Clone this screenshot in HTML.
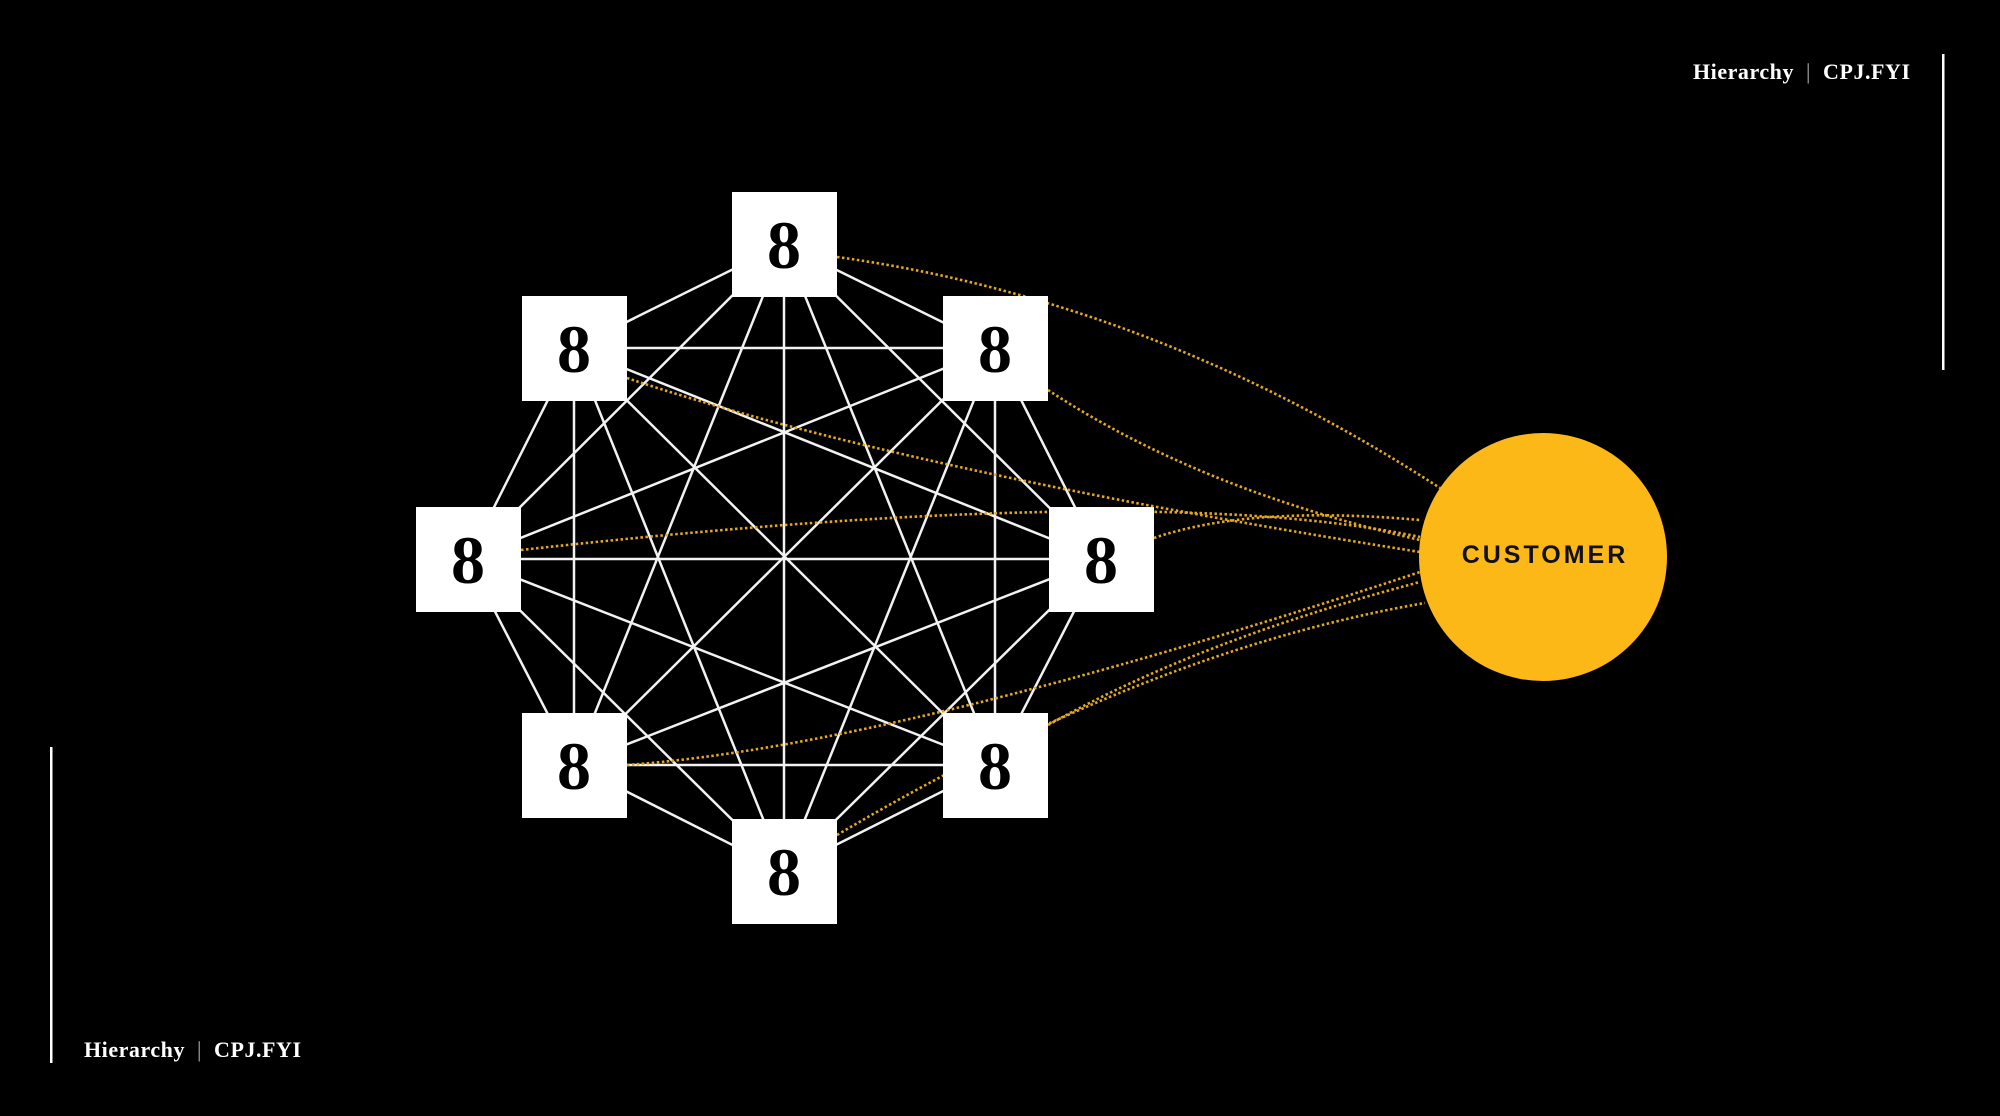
<!DOCTYPE html>
<html><head><meta charset="utf-8"><style>
html,body{margin:0;padding:0;background:#000;width:2000px;height:1116px;overflow:hidden}
svg{display:block}
</style></head><body>
<svg width="2000" height="1116" viewBox="0 0 2000 1116" xmlns="http://www.w3.org/2000/svg">
<rect width="2000" height="1116" fill="#000"/>
<g stroke="#f2f2f2" stroke-width="2.5" fill="none">
<path d="M784,244L995,348M784,244L1101,559M784,244L995,765M784,244L784,871M784,244L574,765M784,244L468,559M784,244L574,348
M995,348L1101,559M995,348L995,765M995,348L784,871M995,348L574,765M995,348L468,559M995,348L574,348
M1101,559L995,765M1101,559L784,871M1101,559L574,765M1101,559L468,559M1101,559L574,348
M995,765L784,871M995,765L574,765M995,765L468,559M995,765L574,348
M784,871L574,765M784,871L468,559M784,871L574,348
M574,765L468,559M574,765L574,348
M468,559L574,348"/>
</g>
<g stroke="#e5a81d" stroke-width="2.6" fill="none" stroke-dasharray="2.5 2.5">
<path d="M837,257 Q1150,300 1440,488"/>
<path d="M1048,390 Q1200,490 1420,540"/>
<path d="M627,378 Q900,470 1420,552"/>
<path d="M521,550 Q1150,480 1420,537"/>
<path d="M1154,538 Q1250,505 1420,520"/>
<path d="M627,765 Q900,745 1420,572"/>
<path d="M1048,725 Q1200,640 1420,582"/>
<path d="M837,835 Q1150,650 1425,603"/>
</g>
<g fill="#fff">
<rect x="732" y="192" width="105" height="105"/>
<rect x="522" y="296" width="105" height="105"/>
<rect x="943" y="296" width="105" height="105"/>
<rect x="416" y="507" width="105" height="105"/>
<rect x="1049" y="507" width="105" height="105"/>
<rect x="522" y="713" width="105" height="105"/>
<rect x="943" y="713" width="105" height="105"/>
<rect x="732" y="819" width="105" height="105"/>
</g>
<g font-family="Liberation Serif, serif" font-weight="bold" font-size="68" fill="#000" text-anchor="middle">
<text x="784" y="268">8</text>
<text x="574" y="372">8</text>
<text x="995" y="372">8</text>
<text x="468" y="583">8</text>
<text x="1101" y="583">8</text>
<text x="574" y="789">8</text>
<text x="995" y="789">8</text>
<text x="784" y="895">8</text>
</g>
<circle cx="1543" cy="557" r="124" fill="#fbb817"/>
<text x="1545" y="563" font-family="Liberation Sans, sans-serif" font-weight="bold" font-size="25" letter-spacing="3" fill="#111" text-anchor="middle">CUSTOMER</text>
<g font-family="Liberation Serif, serif" font-weight="bold" font-size="22" fill="#fff">
<text x="1693" y="79" textLength="217" lengthAdjust="spacing" xml:space="preserve">Hierarchy  <tspan fill="#aaa" font-weight="normal">|</tspan>  CPJ.FYI</text>
<text x="84" y="1057" textLength="217" lengthAdjust="spacing" xml:space="preserve">Hierarchy  <tspan fill="#aaa" font-weight="normal">|</tspan>  CPJ.FYI</text>
</g>
<rect x="1942" y="54" width="2.5" height="316" fill="#fff"/>
<rect x="50" y="747" width="2.5" height="316" fill="#fff"/>
</svg>
</body></html>
